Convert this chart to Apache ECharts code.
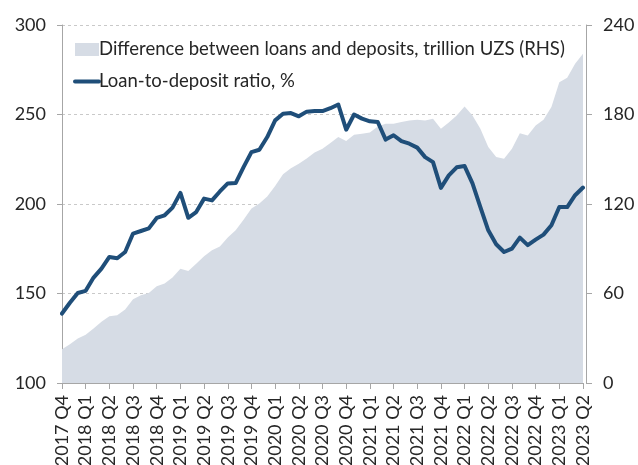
<!DOCTYPE html>
<html>
<head>
<meta charset="utf-8">
<script src="https://cdn.jsdelivr.net/npm/echarts@6/dist/echarts.min.js"></script>
<style>
  html, body { margin: 0; padding: 0; background: #ffffff; }
  #chart { width: 638px; height: 465px; }
</style>
</head>
<body>
<div id="chart"></div>
<script>
// Quarter labels shown on the horizontal axis (one every three months)
var quarterLabels = [
  '2017 Q4', '2018 Q1', '2018 Q2', '2018 Q3', '2018 Q4',
  '2019 Q1', '2019 Q2', '2019 Q3', '2019 Q4',
  '2020 Q1', '2020 Q2', '2020 Q3', '2020 Q4',
  '2021 Q1', '2021 Q2', '2021 Q3', '2021 Q4',
  '2022 Q1', '2022 Q2', '2022 Q3', '2022 Q4',
  '2023 Q1', '2023 Q2'
];

// Monthly observations, Dec 2017 .. Jun 2023
var months = [];
(function () {
  var y = 2017, m = 12;
  for (var i = 0; i < 67; i++) {
    months.push(y + '-' + (m < 10 ? '0' + m : m));
    m++;
    if (m > 12) { m = 1; y++; }
  }
})();

// Loan-to-deposit ratio, % (left axis)
var ldrRatio = [
  138.8, 144.8, 150.3, 151.5, 158.9, 163.9, 170.4, 169.7, 173.2, 183.5,
  184.9, 186.4, 192.2, 193.7, 198.0, 206.2, 192.3, 195.5, 203.0, 202.0,
  207.0, 211.5, 211.7, 220.6, 229.0, 230.3, 237.4, 246.7, 250.4, 250.8,
  249.0, 251.6, 251.9, 251.9, 253.5, 255.6, 241.5, 250.0, 247.7, 246.2,
  245.8, 236.0, 238.4, 235.1, 233.7, 231.5, 226.2, 223.4, 209.0, 216.0,
  220.5, 221.2, 211.5, 198.3, 185.3, 177.5, 173.2, 175.1, 181.2, 177.0,
  180.1, 182.9, 188.1, 198.3, 198.3, 204.9, 209.2
];

// Difference between loans and deposits, trillion UZS (right axis)
var loanDepositGap = [
  22.7, 26.0, 29.9, 32.3, 36.6, 41.0, 44.8, 45.5, 49.3, 56.2,
  58.9, 60.4, 64.9, 66.7, 70.7, 76.6, 75.1, 80.0, 85.0, 89.0,
  91.5, 97.5, 102.4, 109.5, 116.9, 120.3, 125.0, 132.0, 140.0, 144.0,
  147.0, 150.5, 154.5, 157.1, 160.9, 164.9, 162.2, 166.5, 167.1, 168.0,
  172.0, 173.8, 173.8, 174.9, 176.0, 176.5, 176.0, 177.2, 170.5, 174.7,
  179.4, 185.4, 179.4, 170.5, 158.2, 151.5, 150.4, 157.1, 167.5, 166.0,
  172.7, 176.5, 185.0, 201.7, 204.6, 214.0, 220.7
];

var gapName = 'Difference between loans and deposits, trillion UZS (RHS)';
var ratioName = 'Loan-to-deposit ratio, %';

var FONT = 'Lato';
var TEXT = '#262626';
var AXIS = '#a6a6a6';
var AREA = '#d6dce5';
var LINE = '#1f4e79';

var chart = echarts.init(document.getElementById('chart'), null, { renderer: 'canvas' });

var everyQuarter = function (i) { return i % 3 === 0; };

chart.setOption({
  animation: false,
  backgroundColor: '#ffffff',
  textStyle: { fontFamily: FONT, color: TEXT },
  grid: {
    left: 62, right: 55, top: 25, bottom: 82,
    containLabel: false,
    outerBoundsMode: 'none'
  },
  legend: {
    orient: 'vertical',
    left: 68,
    top: 35,
    itemWidth: 24,
    itemHeight: 13,
    itemGap: 13,
    textStyle: { fontFamily: FONT, fontSize: 18.5, color: TEXT, padding: [0, 0, 0, -5] },
    data: [
      { name: gapName, icon: 'rect' },
      { name: ratioName, icon: 'inherit', itemStyle: { opacity: 0 }, lineStyle: { width: 4, color: LINE } }
    ]
  },
  xAxis: {
    type: 'category',
    data: months,
    boundaryGap: false,
    axisLine: { show: true, lineStyle: { color: AXIS, width: 1 } },
    axisTick: { show: true, interval: everyQuarter, length: 6, lineStyle: { color: AXIS } },
    axisLabel: {
      interval: everyQuarter,
      rotate: 90,
      margin: 12,
      fontFamily: FONT,
      fontSize: 18,
      color: TEXT,
      formatter: function (v, i) { return quarterLabels[i / 3] || ''; }
    },
    splitLine: { show: false }
  },
  yAxis: [
    {
      type: 'value',
      min: 100,
      max: 300,
      interval: 50,
      axisLine: { show: true, lineStyle: { color: AXIS } },
      axisTick: { show: true, length: 5, lineStyle: { color: AXIS } },
      axisLabel: { margin: 16, fontFamily: FONT, fontSize: 18, color: TEXT },
      splitLine: { show: true, lineStyle: { color: '#c9c9c9', type: [3, 3], width: 1 } }
    },
    {
      type: 'value',
      min: 0,
      max: 240,
      interval: 60,
      offset: 3,
      axisLine: { show: true, lineStyle: { color: AXIS } },
      axisTick: { show: true, length: 6, lineStyle: { color: AXIS } },
      axisLabel: { margin: 17, fontFamily: FONT, fontSize: 18, color: TEXT },
      splitLine: { show: false }
    }
  ],
  series: [
    {
      name: gapName,
      type: 'line',
      yAxisIndex: 1,
      data: loanDepositGap,
      symbol: 'none',
      color: AREA,
      lineStyle: { width: 0, color: AREA },
      itemStyle: { color: AREA },
      areaStyle: { color: AREA, opacity: 1 },
      z: 1
    },
    {
      name: ratioName,
      type: 'line',
      yAxisIndex: 0,
      data: ldrRatio,
      symbol: 'none',
      color: LINE,
      lineStyle: { width: 4, color: LINE, join: 'round', cap: 'round' },
      itemStyle: { color: LINE },
      z: 3
    }
  ]
});
</script>
</body>
</html>
